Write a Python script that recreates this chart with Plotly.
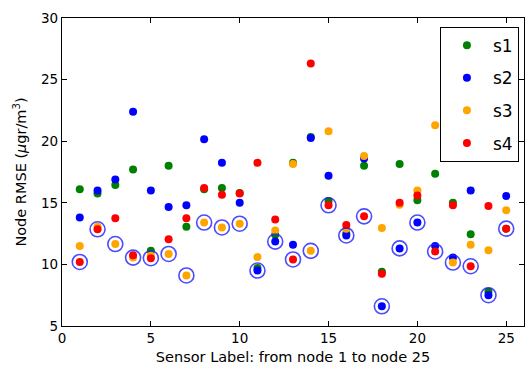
import plotly.graph_objects as go

nodes = list(range(1, 26))
s1 = [16.1, 15.75, 16.45, 17.7, 11.1, 18.0, 13.05, 16.1, 16.2, 15.8, 9.7, 12.4,
      18.25, 20.35, 15.15, 12.5, 18.0, 9.4, 18.15, 15.2, 17.35, 15.0, 12.45, 7.8, 12.9]
s2 = [13.8, 16.0, 16.9, 22.4, 16.0, 14.65, 14.8, 20.15, 18.25, 15.0, 9.5, 11.85,
      11.6, 20.25, 17.2, 12.35, 18.6, 6.6, 11.3, 13.4, 11.5, 10.55, 16.0, 7.5, 15.55]
s3 = [11.5, 13.05, 11.65, 10.55, 10.7, 10.85, 9.1, 13.4, 13.0, 13.3, 10.6, 12.75,
      18.15, 11.1, 20.8, 12.9, 18.8, 12.95, 14.85, 16.0, 21.3, 10.15, 11.6, 11.15, 14.4]
s4 = [10.2, 12.85, 13.75, 10.75, 10.5, 12.05, 13.75, 16.2, 15.65, 15.75, 18.25, 13.65,
      10.4, 26.3, 14.8, 13.2, 13.9, 9.25, 15.0, 15.6, 11.05, 14.8, 9.85, 14.75, 12.9]

series = [("s1", s1, "#008000"), ("s2", s2, "#0000ff"),
          ("s3", s3, "#ffa500"), ("s4", s4, "#ff0000")]

fig = go.Figure()
for name, vals, col in series:
    fig.add_trace(go.Scatter(x=nodes, y=vals, mode="markers", name=name,
                             legendgroup=name,
                             marker=dict(color=col, size=8, line=dict(width=0))))

mins = [min(a, b, c, d) for a, b, c, d in zip(s1, s2, s3, s4)]
fig.add_trace(go.Scatter(x=nodes, y=mins, mode="markers", showlegend=False,
                         marker=dict(symbol="circle-open", size=15,
                                     color="rgba(30,30,255,0.8)", line=dict(width=1.6))))

axis_common = dict(showgrid=False, zeroline=False, showline=True, linecolor="black",
                   linewidth=1.2, mirror="ticks", ticks="inside", ticklen=5,
                   tickcolor="black", tickfont=dict(size=13.5, color="black"))

fig.update_layout(
    width=526, height=373,
    margin=dict(l=62, r=2, t=18, b=47, autoexpand=False),
    paper_bgcolor="white", plot_bgcolor="white",
    font=dict(family="DejaVu Sans", color="black"),
    xaxis=dict(range=[0, 26], tickvals=[0, 5, 10, 15, 20, 25],
               title=dict(text="Sensor Label: from node 1 to node 25",
                          font=dict(size=14.5), standoff=6), **axis_common),
    yaxis=dict(range=[5, 30], tickvals=[5, 10, 15, 20, 25, 30],
               title=dict(text="Node RMSE (<i>μ</i>gr/m<sup>3</sup>)",
                          font=dict(size=14.5), standoff=10), **axis_common),
    legend=dict(x=0.989, xanchor="right", y=0.972, yanchor="top",
                bordercolor="black", borderwidth=1, bgcolor="white",
                font=dict(size=17), traceorder="grouped", tracegroupgap=7.5,
                itemwidth=42),
)

fig.write_html("out.html", config={"displayModeBar": False},
               post_script="document.body.style.margin='0';document.body.style.overflow='hidden';")
